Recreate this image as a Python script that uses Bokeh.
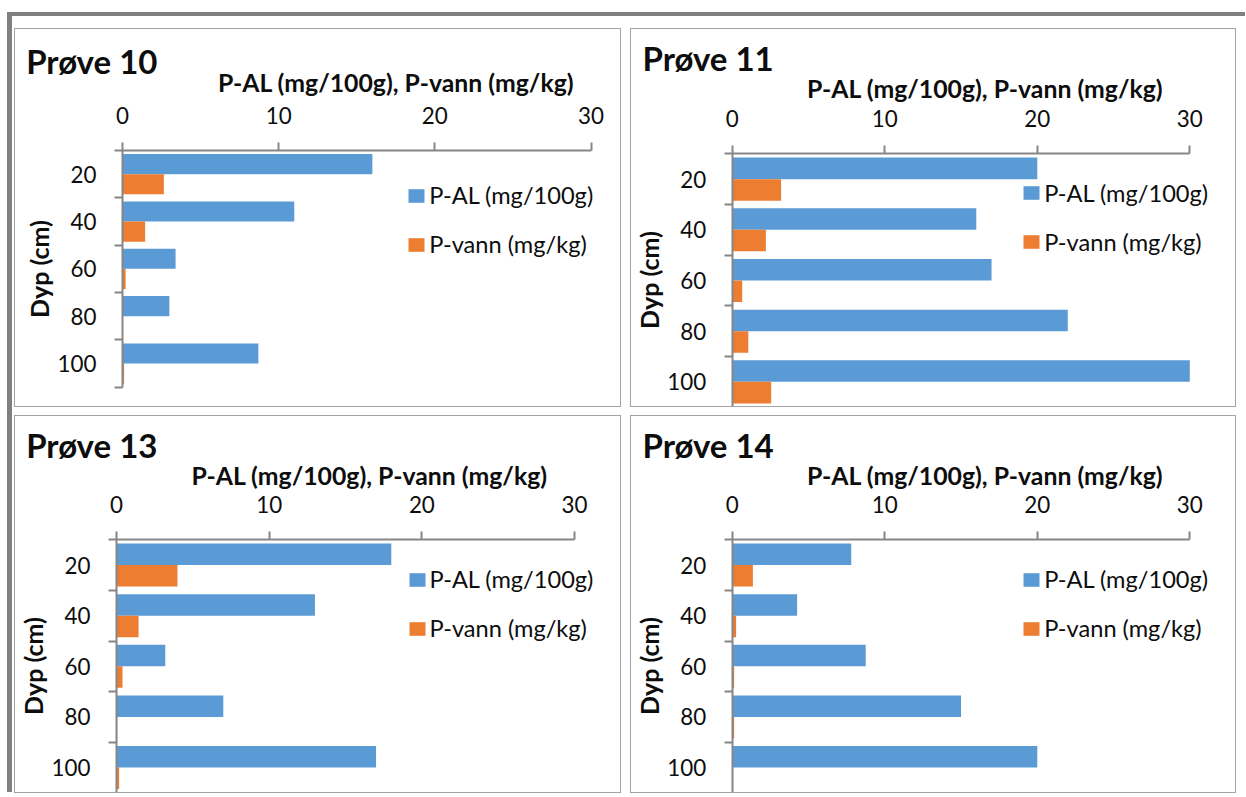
import numpy as np
from bokeh.plotting import figure
from bokeh.models import Range1d, FixedTicker, ColumnDataSource, Label, Legend, LegendItem
from bokeh.layouts import row, column
from bokeh.transform import dodge
from bokeh.embed import file_html
from bokeh.resources import INLINE

# ---------------- data ----------------
depths = [20, 40, 60, 80, 100]
titles = ["Prøve 10", "Prøve 11", "Prøve 13", "Prøve 14"]
p_al_10 = [16.0, 11.0, 3.4, 3.0, 8.7]
p_vann_10 = [2.65, 1.45, 0.2, 0.03, 0.1]
p_al_11 = [20.0, 16.0, 17.0, 22.0, 30.0]
p_vann_11 = [3.2, 2.2, 0.65, 1.05, 2.55]
p_al_13 = [18.0, 13.0, 3.2, 7.0, 17.0]
p_vann_13 = [4.0, 1.45, 0.4, 0.05, 0.18]
p_al_14 = [7.8, 4.25, 8.75, 15.0, 20.0]
p_vann_14 = [1.35, 0.25, 0.12, 0.12, 0.0]
x_ticks = [0, 10, 20, 30]
y_bounds = [10, 30, 50, 70, 90, 110]
series_names = ["P-AL (mg/100g)", "P-vann (mg/kg)"]
x_title = "P-AL (mg/100g), P-vann (mg/kg)"
y_title = "Dyp (cm)"

# ---------------- style ----------------
BLUE = "#5B9BD5"
ORANGE = "#ED7D31"
AXIS = "#868686"
FONT = "Lato"
TXT = "#0d0d0d"
TITLE_SIZE = 33.0
AXT_SIZE = 24.8
BASE_FIX = 0.42   # empirical baseline correction (fraction of font size)

# page-pixel layout of each panel: figure origin/size, band frame (left, top, width, height)
cfgs = [
    dict(origin=(15, 29), size=(605, 377), frame=(122.0, 150.0, 468.5, 236.7),
         title_xy=(25.7, 74), axt_xy=(395.6, 92.7), leg=(408.3, 189.3)),
    dict(origin=(631, 29), size=(604, 377), frame=(731.8, 153.3, 457.5, 253.4),
         title_xy=(642, 71.7), axt_xy=(984.7, 98.3), leg=(1023.2, 186.7)),
    dict(origin=(15, 416), size=(605, 376), frame=(115.9, 539.3, 458.2, 253.0),
         title_xy=(25.7, 458.3), axt_xy=(369.1, 485), leg=(408.5, 573)),
    dict(origin=(631, 416), size=(604, 376), frame=(731.8, 539.3, 457.5, 253.0),
         title_xy=(642, 458.3), axt_xy=(984.7, 485), leg=(1023.2, 573)),
]
LEG_H = 69
GW, GH = 20, 17


def make_panel(cfg, title, pal, pvann):
    W, H = cfg["size"]
    ox, oy = cfg["origin"]
    FL, FT, FW, FH = cfg["frame"]
    ppx = FW / 30.0
    ppy = FH / 100.0

    def dat(px, py):
        return (px - FL) / ppx, 10 + (py - FT) / ppy

    x0, ytop = dat(ox, oy)
    x1, ybot = dat(ox + W, oy + H)

    p = figure(width=W, height=H, x_range=Range1d(x0, x1), y_range=Range1d(ybot, ytop),
               x_axis_location="above", output_backend="svg", toolbar_location=None,
               min_border=0, styles={"outline": "1px solid #a3a3a3"})
    p.grid.visible = False
    p.outline_line_color = None
    p.background_fill_color = "white"
    p.border_fill_color = "white"

    src = ColumnDataSource(dict(depth=depths, pal=pal, pvann=pvann))
    r1 = p.hbar(y=dodge("depth", -4.25), left=0, right="pal", height=8.5, source=src,
                fill_color=BLUE, line_color=None)
    r2 = p.hbar(y=dodge("depth", 4.25), left=0, right="pvann", height=8.5, source=src,
                fill_color=ORANGE, line_color=None)

    xa = p.xaxis[0]
    xa.fixed_location = 10
    xa.bounds = (0, 30)
    xa.ticker = FixedTicker(ticks=x_ticks)
    xa.axis_line_color = AXIS
    xa.axis_line_width = 2
    xa.major_tick_line_color = AXIS
    xa.major_tick_line_width = 2
    xa.major_tick_out = 8
    xa.major_tick_in = 0
    xa.minor_tick_line_color = None
    xa.major_label_standoff = 19
    xa.major_label_text_font = FONT
    xa.major_label_text_font_size = "22.4px"
    xa.major_label_text_color = TXT

    ya = p.yaxis[0]
    ya.fixed_location = 0
    ya.bounds = (10, 110)
    ya.ticker = FixedTicker(ticks=depths, minor_ticks=y_bounds)
    ya.axis_line_color = AXIS
    ya.axis_line_width = 2
    ya.major_tick_line_color = None
    ya.major_tick_out = 8
    ya.major_tick_in = 0
    ya.minor_tick_line_color = AXIS
    ya.minor_tick_line_width = 2
    ya.minor_tick_out = 8
    ya.minor_tick_in = 0
    ya.major_label_standoff = 18
    ya.major_label_text_font = FONT
    ya.major_label_text_font_size = "22.4px"
    ya.major_label_text_color = TXT
    ya.axis_label = y_title
    ya.axis_label_text_font = FONT
    ya.axis_label_text_font_style = "bold"
    ya.axis_label_text_font_size = "25px"
    ya.axis_label_text_color = TXT
    ya.axis_label_standoff = 1

    tpx, tpy = cfg["title_xy"]
    tx, ty = dat(tpx, tpy - BASE_FIX * TITLE_SIZE)
    p.add_layout(Label(x=tx, y=ty, text=title, text_font=FONT, text_font_style="bold",
                       text_font_size=f"{TITLE_SIZE}px", text_color=TXT, text_align="left",
                       text_baseline="alphabetic"))
    apx, apy = cfg["axt_xy"]
    ax, ay = dat(apx, apy - BASE_FIX * AXT_SIZE)
    p.add_layout(Label(x=ax, y=ay, text=x_title, text_font=FONT, text_font_style="bold",
                       text_font_size=f"{AXT_SIZE}px", text_color=TXT, text_align="center",
                       text_baseline="alphabetic"))

    gx, gy = cfg["leg"]
    legend = Legend(items=[LegendItem(label=series_names[0], renderers=[r1]),
                           LegendItem(label=series_names[1], renderers=[r2])],
                    location=(gx - ox - 0.1 * GW, H - (gy - oy) - LEG_H),
                    orientation="vertical", border_line_color=None, background_fill_alpha=0,
                    padding=0, margin=0, spacing=21, glyph_width=GW, glyph_height=GH,
                    label_standoff=3, label_height=13, label_text_font=FONT,
                    label_text_font_size="23.6px", label_text_color=TXT)
    p.add_layout(legend, "center")
    return p


p10 = make_panel(cfgs[0], titles[0], p_al_10, p_vann_10)
p11 = make_panel(cfgs[1], titles[1], p_al_11, p_vann_11)
p13 = make_panel(cfgs[2], titles[2], p_al_13, p_vann_13)
p14 = make_panel(cfgs[3], titles[3], p_al_14, p_vann_14)

layout = column(row(p10, p11, spacing=11), row(p13, p14, spacing=11), spacing=10,
                styles={"position": "relative", "top": "12px", "left": "7px",
                        "border-top": "4px solid #808080", "border-left": "5px solid #808080",
                        "padding-top": "13px", "padding-left": "3px", "padding-right": "10px",
                        "background-color": "white"})

open("out.html", "w").write(file_html(layout, INLINE))
